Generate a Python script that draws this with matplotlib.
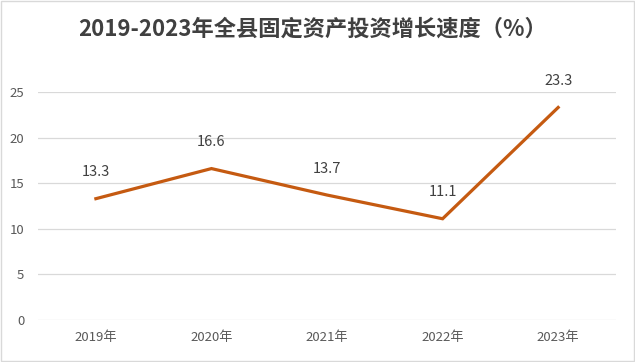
import matplotlib
matplotlib.use('Agg')
import matplotlib.pyplot as plt
from matplotlib.patches import Rectangle

plt.rcParams['font.family'] = ['Noto Sans CJK SC', 'DejaVu Sans']

# data
years = ['2019年', '2020年', '2021年', '2022年', '2023年']
growth = [13.3, 16.6, 13.7, 11.1, 23.3]
yticks = [0, 5, 10, 15, 20, 25]
title = '2019-2023年全县固定资产投资增长速度（%）'

fig = plt.figure(figsize=(6.35, 3.62), dpi=100)
ax = fig.add_axes([0.060, 0.116, 0.910, 0.630])

x = range(len(years))
ax.plot(x, growth, color='#C55A11', lw=2.3, solid_joinstyle='miter', clip_on=False, zorder=3)

for xi, v in zip(x, growth):
    ax.annotate('%.1f' % v, (xi, v), xytext=(0, 14), textcoords='offset points',
                ha='center', va='bottom', fontsize=10.5, color='#404040')

ax.set_xlim(-0.5, len(years) - 0.5)
ax.set_ylim(0, 25)
ax.set_yticks(yticks)
ax.set_xticks(list(x))
ax.set_xticklabels(years)
ax.grid(axis='y', color='#D9D9D9', lw=0.9)
ax.set_axisbelow(True)
for s in ax.spines.values():
    s.set_visible(False)
ax.tick_params(axis='both', length=0, labelsize=9.5, labelcolor='#595959')
ax.tick_params(axis='y', pad=10)
ax.tick_params(axis='x', pad=8)

fig.text(0.492, 0.921, title, ha='center', va='center', fontsize=16,
         fontweight='bold', color='#404040')

fig.patches.append(Rectangle((0.002, 0.003), 0.996, 0.994, transform=fig.transFigure,
                             fill=False, edgecolor='#D9D9D9', lw=1))

fig.savefig('out.png', dpi=100, facecolor='white')
